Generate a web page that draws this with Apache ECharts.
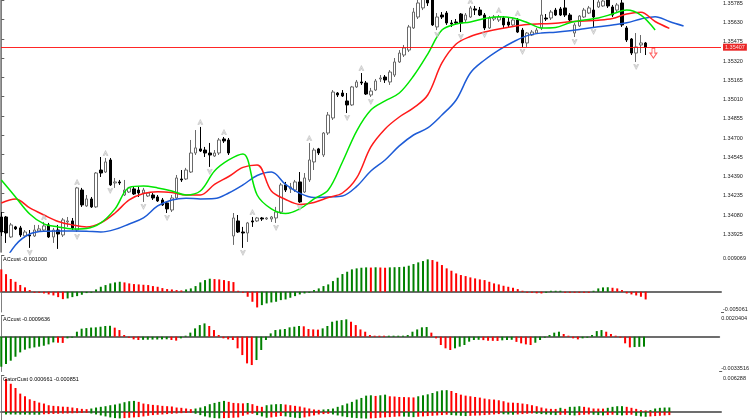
<!DOCTYPE html>
<html>
<head>
<meta charset="utf-8">
<script src="https://cdn.jsdelivr.net/npm/echarts@6/dist/echarts.min.js"></script>
<style>
html, body { margin: 0; padding: 0; background: #fff; }
#chart { width: 752px; height: 420px; }
</style>
</head>
<body>
<div id="chart"></div>
<script>
// price ticks on the right scale
var priceTicks = [1.33925, 1.34080, 1.34235, 1.34390, 1.34545, 1.34700, 1.34855, 1.35010,
    1.35165, 1.35320, 1.35475, 1.35630, 1.35785];
var bidPrice = 1.35407;

// candles, one per bar index
var opens = [
    1.34040, 1.34040, 1.33879, 1.33960, 1.33952, 1.33887, 1.33895, 1.33887, 1.33927, 1.33935,
    1.33976, 1.33879, 1.33935, 1.33895, 1.34000, 1.34008, 1.33935, 1.34257, 1.34129, 1.34185,
    1.34121, 1.34418, 1.34402, 1.34499, 1.34314, 1.34322, 1.34217, 1.34241, 1.34266, 1.34257,
    1.34233, 1.34209, 1.34217, 1.34201, 1.34177, 1.34153, 1.34096, 1.34193, 1.34346, 1.34346,
    1.34402, 1.34555, 1.34588, 1.34579, 1.34555, 1.34531, 1.34555, 1.34668, 1.34660, 1.33887,
    1.34008, 1.33919, 1.33911, 1.34008, 1.34008, 1.34032, 1.34024, 1.34024, 1.34032, 1.34080,
    1.34298, 1.34266, 1.34257, 1.34322, 1.34241, 1.34338, 1.34483, 1.34588, 1.34539, 1.34716,
    1.34837, 1.35038, 1.35038, 1.34974, 1.34942, 1.35087, 1.35127, 1.35119, 1.35022, 1.35062,
    1.35151, 1.35167, 1.35127, 1.35183, 1.35288, 1.35344, 1.35384, 1.35562, 1.35650, 1.35723,
    1.35803, 1.35787, 1.35570, 1.35666, 1.35682, 1.35602, 1.35610, 1.35674, 1.35626, 1.35650,
    1.35715, 1.35706, 1.35666, 1.35562, 1.35634, 1.35626, 1.35642, 1.35610, 1.35586, 1.35626,
    1.35545, 1.35441, 1.35505, 1.35521, 1.35562, 1.35642, 1.35642, 1.35706, 1.35715, 1.35723,
    1.35666, 1.35521, 1.35578, 1.35650, 1.35682, 1.35706, 1.35731, 1.35739, 1.35787, 1.35731,
    1.35706, 1.35763, 1.35562, 1.35473, 1.35360, 1.35425, 1.35441
];
var closes = [
    1.33919, 1.33911, 1.33976, 1.33944, 1.33895, 1.33919, 1.33887, 1.33935, 1.33944, 1.33968,
    1.33879, 1.33935, 1.33903, 1.34016, 1.34008, 1.33952, 1.34274, 1.34137, 1.34185, 1.34121,
    1.34394, 1.34394, 1.34483, 1.34298, 1.34322, 1.34314, 1.34257, 1.34274, 1.34225, 1.34233,
    1.34257, 1.34233, 1.34193, 1.34169, 1.34137, 1.34105, 1.34193, 1.34354, 1.34338, 1.34418,
    1.34555, 1.34596, 1.34571, 1.34555, 1.34539, 1.34555, 1.34660, 1.34652, 1.34555, 1.34032,
    1.33919, 1.33911, 1.33992, 1.34000, 1.34032, 1.34024, 1.34032, 1.34040, 1.34080, 1.34298,
    1.34257, 1.34282, 1.34322, 1.34161, 1.34354, 1.34499, 1.34579, 1.34555, 1.34716, 1.34861,
    1.35046, 1.35022, 1.35014, 1.34942, 1.35087, 1.35127, 1.35119, 1.35030, 1.35054, 1.35135,
    1.35159, 1.35143, 1.35207, 1.35288, 1.35360, 1.35401, 1.35570, 1.35690, 1.35763, 1.35811,
    1.35763, 1.35586, 1.35650, 1.35650, 1.35602, 1.35594, 1.35602, 1.35602, 1.35666, 1.35723,
    1.35706, 1.35666, 1.35562, 1.35642, 1.35650, 1.35650, 1.35586, 1.35586, 1.35626, 1.35529,
    1.35441, 1.35521, 1.35529, 1.35545, 1.35666, 1.35634, 1.35690, 1.35666, 1.35666, 1.35666,
    1.35626, 1.35586, 1.35658, 1.35706, 1.35723, 1.35650, 1.35771, 1.35779, 1.35739, 1.35666,
    1.35747, 1.35586, 1.35465, 1.35360, 1.35409, 1.35441, 1.35407
];
var lows = [
    1.33887, 1.33831, 1.33871, 1.33935, 1.33879, 1.33871, 1.33791, 1.33879, 1.33919, 1.33919,
    1.33871, 1.33831, 1.33783, 1.33879, 1.33960, 1.33935, 1.33919, 1.34121, 1.34121, 1.34113,
    1.34113, 1.34362, 1.34394, 1.34290, 1.34274, 1.34298, 1.34209, 1.34233, 1.34217, 1.34201,
    1.34161, 1.34201, 1.34177, 1.34161, 1.34129, 1.34072, 1.34080, 1.34177, 1.34322, 1.34338,
    1.34394, 1.34539, 1.34563, 1.34523, 1.34443, 1.34523, 1.34539, 1.34636, 1.34539, 1.33815,
    1.33911, 1.33791, 1.33839, 1.33960, 1.34000, 1.34008, 1.34016, 1.34000, 1.33992, 1.34064,
    1.34241, 1.34233, 1.34241, 1.34153, 1.34233, 1.34322, 1.34418, 1.34539, 1.34523, 1.34700,
    1.34821, 1.35006, 1.35006, 1.34877, 1.34934, 1.35079, 1.35103, 1.35022, 1.35006, 1.35054,
    1.35127, 1.35119, 1.35103, 1.35167, 1.35280, 1.35328, 1.35368, 1.35554, 1.35634, 1.35706,
    1.35739, 1.35578, 1.35545, 1.35634, 1.35586, 1.35570, 1.35586, 1.35529, 1.35610, 1.35642,
    1.35666, 1.35658, 1.35545, 1.35554, 1.35618, 1.35610, 1.35562, 1.35570, 1.35578, 1.35521,
    1.35409, 1.35409, 1.35497, 1.35513, 1.35545, 1.35618, 1.35626, 1.35658, 1.35658, 1.35650,
    1.35618, 1.35489, 1.35570, 1.35642, 1.35674, 1.35570, 1.35723, 1.35731, 1.35723, 1.35650,
    1.35690, 1.35570, 1.35449, 1.35344, 1.35288, 1.35360, 1.35344
];
var highs = [
    1.34080, 1.34048, 1.33992, 1.33968, 1.33968, 1.33935, 1.33935, 1.33976, 1.33976, 1.34000,
    1.33992, 1.33952, 1.33976, 1.34032, 1.34040, 1.34032, 1.34282, 1.34274, 1.34217, 1.34201,
    1.34402, 1.34523, 1.34515, 1.34515, 1.34354, 1.34338, 1.34338, 1.34282, 1.34282, 1.34282,
    1.34274, 1.34241, 1.34233, 1.34217, 1.34193, 1.34161, 1.34217, 1.34378, 1.34418, 1.34435,
    1.34660, 1.34740, 1.34765, 1.34604, 1.34636, 1.34579, 1.34676, 1.34684, 1.34676, 1.34072,
    1.34056, 1.33960, 1.34000, 1.34040, 1.34040, 1.34040, 1.34040, 1.34048, 1.34121, 1.34314,
    1.34322, 1.34314, 1.34338, 1.34402, 1.34394, 1.34636, 1.34596, 1.34596, 1.34724, 1.34885,
    1.35062, 1.35046, 1.35062, 1.35038, 1.35095, 1.35143, 1.35199, 1.35135, 1.35079, 1.35151,
    1.35183, 1.35183, 1.35223, 1.35320, 1.35384, 1.35425, 1.35586, 1.35723, 1.35787, 1.35835,
    1.35835, 1.35803, 1.35682, 1.35690, 1.35698, 1.35626, 1.35634, 1.35682, 1.35682, 1.35739,
    1.35739, 1.35731, 1.35682, 1.35658, 1.35666, 1.35666, 1.35658, 1.35642, 1.35642, 1.35642,
    1.35562, 1.35529, 1.35545, 1.35562, 1.35787, 1.35674, 1.35706, 1.35723, 1.35731, 1.35787,
    1.35682, 1.35602, 1.35666, 1.35723, 1.35739, 1.35787, 1.35787, 1.35795, 1.35803, 1.35747,
    1.35763, 1.35787, 1.35578, 1.35481, 1.35521, 1.35505, 1.35449
];

// alligator lines, sampled every 3 bars from bar 0 (they run ahead of price)
var lineStep = 3;
var lipsLine = [
    1.34338, 1.34201, 1.34064, 1.33984, 1.33960, 1.33944, 1.33948, 1.33992, 1.34105, 1.34278,
    1.34290, 1.34274, 1.34249, 1.34217, 1.34249, 1.34410, 1.34499, 1.34547, 1.34217, 1.34105,
    1.34068, 1.34105, 1.34185, 1.34257, 1.34483, 1.34732, 1.34901, 1.34974, 1.35038, 1.35175,
    1.35352, 1.35545, 1.35594, 1.35610, 1.35638, 1.35652, 1.35642, 1.35606, 1.35562, 1.35566,
    1.35604, 1.35626, 1.35642, 1.35674, 1.35707, 1.35666, 1.35546
];
var teethLine = [
    1.34153, 1.34185, 1.34113, 1.34056, 1.34004, 1.33976, 1.33960, 1.33992, 1.34072, 1.34177,
    1.34229, 1.34244, 1.34237, 1.34217, 1.34217, 1.34302, 1.34366, 1.34439, 1.34459, 1.34249,
    1.34181, 1.34141, 1.34157, 1.34197, 1.34233, 1.34354, 1.34604, 1.34749, 1.34845, 1.34918,
    1.35022, 1.35280, 1.35433, 1.35493, 1.35529, 1.35554, 1.35574, 1.35589, 1.35595, 1.35600,
    1.35612, 1.35618, 1.35624, 1.35638, 1.35674, 1.35688, 1.35614, 1.35559
];
var jawLine = [
    1.33630, 1.33815, 1.33903, 1.33925, 1.33927, 1.33927, 1.33925, 1.33919, 1.33940, 1.33984,
    1.34032, 1.34129, 1.34177, 1.34191, 1.34185, 1.34188, 1.34233, 1.34298, 1.34374, 1.34402,
    1.34302, 1.34231, 1.34197, 1.34201, 1.34209, 1.34286, 1.34410, 1.34499, 1.34612, 1.34700,
    1.34757, 1.34861, 1.34982, 1.35199, 1.35304, 1.35384, 1.35449, 1.35500, 1.35521, 1.35528,
    1.35540, 1.35556, 1.35572, 1.35586, 1.35603, 1.35634, 1.35653, 1.35614, 1.35578
];

// fractal bars and the sell signal
var fractalUp = [9, 16, 22, 42, 47, 53, 65, 76, 99, 105, 109, 114, 119];
var fractalDown = [6, 16, 23, 30, 35, 44, 51, 58, 63, 73, 78, 92, 97, 102, 110, 121, 125, 134];
var signalBar = 137;
var signalPrice = 1.35360;

// indicator windows
var ac1Values = [
    0.0056, 0.0044, 0.0032, 0.0025, 0.0017, 0.0011, 0.00042, -0.00017, -0.00025, -0.00042,
    -0.00067, -0.00092, -0.00134, -0.00184, -0.00167, -0.00134, -0.00109, -0.00075, -0.00033, -0.00017,
    0.00058, 0.00125, 0.00167, 0.00209, 0.00234, 0.0025, 0.00234, 0.00209, 0.00192, 0.00184,
    0.00175, 0.00167, 0.00142, 0.00125, 0.00092, 0.00067, 0.00058, 0.00042, 0.00033, 0.00058,
    0.00084, 0.00142, 0.00234, 0.00292, 0.00326, 0.00317, 0.00309, 0.00292, 0.00267, 0.00242,
    0.0001, -0.00017, -0.00125, -0.0025, -0.00392, -0.00334, -0.00292, -0.00267, -0.0025, -0.00209,
    -0.00192, -0.0015, -0.00109, -0.00067, -0.00042, -0.00017, 0.00042, 0.00084, 0.00142, 0.00184,
    0.00267, 0.00351, 0.00443, 0.00501, 0.0056, 0.00585, 0.00601, 0.0061, 0.00605, 0.00612,
    0.00607, 0.00601, 0.0061, 0.00614, 0.00618, 0.00626, 0.00651, 0.00693, 0.00735, 0.00768,
    0.0081, 0.00793, 0.00752, 0.00668, 0.00585, 0.00526, 0.00459, 0.00418, 0.00392, 0.00359,
    0.00334, 0.00309, 0.00292, 0.0025, 0.00209, 0.00184, 0.0015, 0.00125, 0.001, 0.00067,
    0.00017, -0.00017, -0.00025, -0.00038, -0.00042, -0.00025, 0.00008, 0.00021, 0.00025, 0,
    -0.00003, -0.00005, -0.00007, -0.00008, -0.0001, 0.00025, 0.00084, 0.00109, 0.00113, 0.001,
    0.00084, 0.00042, -0.00042, -0.00067, -0.00092, -0.00125, -0.00192
];
var ac2Values = [
    -0.00289, -0.00263, -0.00231, -0.00193, -0.00151, -0.00125, -0.00112, -0.00103, -0.00096, -0.00087,
    -0.00074, -0.00055, -0.00058, -0.0006, -0.00016, -0.00006, 0.00048, 0.00077, 0.00083, 0.00088,
    0.0009, 0.00096, 0.00103, 0.00105, 0.00087, 0.00064, 0.00016, -0.0001, -0.00026, -0.00032,
    -0.0003, -0.00029, -0.00028, -0.00027, -0.00026, -0.00025, -0.00032, -0.00038, -0.00016, 0.00006,
    0.00039, 0.0008, 0.00112, 0.00128, 0.00103, 0.00064, 0.00016, -0.00016, -0.00026, -0.00032,
    -0.00112, -0.00177, -0.00257, -0.00273, -0.00225, -0.00128, -0.00032, 0.00032, 0.00064, 0.0007,
    0.00074, 0.0009, 0.00096, 0.00103, 0.001, 0.00074, 0.0007, 0.00068, 0.0008, 0.00103,
    0.00144, 0.00154, 0.0016, 0.00167, 0.00144, 0.00112, 0.0007, 0.00048, 0.00016, 0.00006,
    0.00003, 0.00001, 0.00002, 0.00003, 0.00004, 0.00006, 0.00016, 0.00048, 0.0007, 0.0009,
    0.00093, 0.00039, -0.00016, -0.0008, -0.00112, -0.00128, -0.00112, -0.00096, -0.0008, -0.00048,
    -0.00032, -0.0003, -0.00033, -0.00039, -0.0004, -0.00041, -0.00035, -0.00032, -0.0003, -0.0005,
    -0.00064, -0.00074, -0.0008, -0.00058, -0.00032, -0.00006, 0.00016, 0.00039, 0.00048, 0.00026,
    0.00006, -0.00016, -0.00026, -0.00016, -0.00006, 0.00016, 0.00054, 0.00064, 0.00048, 0.00026,
    0.00006, -0.00006, -0.00064, -0.00103, -0.001, -0.00098, -0.00096
];
var gatorUpper = [
    null, 0.00572, 0.00486, 0.00412, 0.00315, 0.00269, 0.00217, 0.00189, 0.0016, 0.00143,
    0.00114, 0.00103, 0.00097, 0.00089, 0.00086, 0.00074, 0.00063, 0.00051, 0.00046, 0.00057,
    0.00074, 0.00086, 0.00097, 0.00114, 0.00126, 0.00143, 0.00166, 0.00183, 0.00189, 0.00172,
    0.00143, 0.00132, 0.0012, 0.00114, 0.00103, 0.00097, 0.00092, 0.00074, 0.00069, 0.00057,
    0.00046, 0.00057, 0.00074, 0.00097, 0.00132, 0.00154, 0.00172, 0.00189, 0.00172, 0.00154,
    0.00149, 0.00146, 0.00152, 0.00132, 0.00103, 0.00086, 0.00114, 0.00126, 0.00132, 0.00134,
    0.00126, 0.00114, 0.00103, 0.00092, 0.00074, 0.00057, 0.0004, 0.00034, 0.0004, 0.00046,
    0.00057, 0.00086, 0.00114, 0.00143, 0.00172, 0.00212, 0.0024, 0.0028, 0.00286, 0.00275,
    0.00286, 0.00297, 0.00269, 0.00265, 0.00257, 0.00255, 0.00252, 0.00249, 0.00269, 0.00286,
    0.00303, 0.00326, 0.00355, 0.00372, 0.00375, 0.0036, 0.00326, 0.00297, 0.0028, 0.00269,
    0.00257, 0.00246, 0.00229, 0.00217, 0.00212, 0.002, 0.00183, 0.0016, 0.00158, 0.00154,
    0.00143, 0.00132, 0.00114, 0.00097, 0.00074, 0.00057, 0.00051, 0.0005, 0.00069, 0.00051,
    0.00086, 0.00088, 0.00097, 0.00086, 0.00074, 0.00057, 0.00056, 0.00055, 0.00069, 0.00086,
    0.00097, 0.00098, 0.00086, 0.00069, 0.00051, 0.00029, 0.00023, 0.00029, 0.00057, 0.00069,
    0.00074, 0.00075
];
var gatorLower = [
    null, -0.00046, -0.00046, -0.00047, -0.00048, -0.00048, -0.00049, -0.0005, -0.0005, -0.00043,
    -0.0004, -0.00037, -0.00034, -0.00031, -0.00029, -0.00026, -0.00023, -0.0002, -0.00017, -0.00029,
    -0.00046, -0.00063, -0.0008, -0.00097, -0.00109, -0.00114, -0.00109, -0.00103, -0.00097, -0.00092,
    -0.0008, -0.00069, -0.00057, -0.00051, -0.00046, -0.0004, -0.00034, -0.00029, -0.00023, -0.0002,
    -0.00017, -0.00034, -0.00057, -0.0008, -0.00097, -0.00109, -0.00114, -0.00109, -0.00106, -0.00103,
    -0.00097, -0.00069, -0.00046, -0.00034, -0.00057, -0.0008, -0.00103, -0.00097, -0.00086, -0.00074,
    -0.0008, -0.00092, -0.00103, -0.00109, -0.00097, -0.0008, -0.00063, -0.00046, -0.0004, -0.00034,
    -0.00046, -0.00063, -0.0008, -0.00092, -0.00103, -0.00109, -0.00114, -0.00117, -0.00114, -0.00109,
    -0.00103, -0.00097, -0.00092, -0.00086, -0.0008, -0.00083, -0.00086, -0.00092, -0.00086, -0.0008,
    -0.00074, -0.00069, -0.00063, -0.00057, -0.00051, -0.00057, -0.00063, -0.00069, -0.00074, -0.0007,
    -0.00066, -0.00063, -0.00057, -0.00051, -0.00046, -0.0004, -0.00043, -0.00046, -0.00051, -0.00046,
    -0.0004, -0.00034, -0.00029, -0.00034, -0.0004, -0.00046, -0.00051, -0.00057, -0.00054, -0.00051,
    -0.00057, -0.00063, -0.00057, -0.00051, -0.00046, -0.00051, -0.00057, -0.00063, -0.00057, -0.00051,
    -0.00057, -0.00063, -0.00057, -0.00051, -0.00069, -0.0008, -0.00086, -0.0008, -0.00074, -0.00069,
    -0.00063, -0.00057
];

var ac1Range = [-0.005061, 0.009069];
var ac2Range = [-0.0033516, 0.0020404];
var gatorRange = [-0.00142, 0.006288];
var panelTitles = ['ACcust -0.001000', 'ACcust -0.0009636', 'GatorCust 0.000661 -0.000851'];

var GREEN = '#008000', RED = '#ff0000', BID_RED = '#ff0000';
var FONT = 'Liberation Sans';
var X_MIN = -0.063, X_MAX = 151.9;
var PRICE_MIN = 1.33758, PRICE_MAX = 1.35787;

var UP_ARROW = 'path://M5,0L10,9L7,9L5,5L3,9L0,9Z';
var DOWN_ARROW = 'path://M0,0L3,0L5,4L7,0L10,0L5,9Z';
var SIGNAL_ARROW = 'path://M3,0L7,0L7,6L10,6L5,12L0,6L3,6Z';

// color of each bar: green when the value rose
function risingColors(values, absolute, firstColor) {
    return values.map(function(v, i) {
        if (v === null) return null;
        var prev = values[i - 1];
        if (prev === null || prev === undefined) return firstColor;
        var a = absolute ? Math.abs(v) : v;
        var b = absolute ? Math.abs(prev) : prev;
        return a >= b ? GREEN : RED;
    });
}
function acColors(values) {
    return values.map(function(v, i) {
        var j = i === 0 ? 1 : i;
        return values[j] >= values[j - 1] ? GREEN : RED;
    });
}

var grids = [
    {left: 1, width: 720, top: 0, height: 252},
    {left: 1, width: 720, top: 255.5, height: 56.5},
    {left: 1, width: 720, top: 315.5, height: 56},
    {left: 1, width: 720, top: 375.5, height: 44.5}
];

var xAxes = grids.map(function(g, k) {
    return {
        type: 'value', gridIndex: k, min: X_MIN, max: X_MAX,
        position: 'top', offset: 1.5,
        axisLine: {show: k > 0, lineStyle: {color: '#6d6d6d', width: 2}},
        axisTick: {show: false}, axisLabel: {show: false}, splitLine: {show: false}
    };
});

function sideAxis(gi, range, values, digits, vAlign, showLine) {
    return {
        type: 'value', gridIndex: gi, position: 'right', min: range[0], max: range[1],
        axisLine: {show: showLine, lineStyle: {color: '#808080', width: 1}},
        axisTick: {show: true, length: 3, customValues: values, lineStyle: {color: '#606060'}},
        axisLabel: {
            show: true, customValues: values, margin: 2,
            formatter: function(v) { return v.toFixed(digits); },
            fontSize: 5.5, fontFamily: FONT, color: '#1a1a1a', verticalAlign: vAlign
        },
        splitLine: {show: false}
    };
}

var yAxes = [
    sideAxis(0, [PRICE_MIN, PRICE_MAX], priceTicks, 5, 'top', true),
    // thin frame on the left edge of the price window
    {
        type: 'value', gridIndex: 0, position: 'left', min: PRICE_MIN, max: PRICE_MAX,
        axisLine: {show: true, lineStyle: {color: '#7d7d7d', width: 1.5}},
        axisTick: {show: false, customValues: []}, axisLabel: {show: false, customValues: []},
        splitLine: {show: false}
    },
    sideAxis(1, ac1Range, [ac1Range[1]], 6, 'top', true),
    sideAxis(1, ac1Range, [ac1Range[0]], 6, 'bottom', false),
    sideAxis(2, ac2Range, [ac2Range[1]], 7, 'top', true),
    sideAxis(2, ac2Range, [ac2Range[0]], 7, 'bottom', false),
    sideAxis(3, gatorRange, [gatorRange[1]], 6, 'top', true)
];

var candleData = opens.map(function(o, i) {
    return [i, o, closes[i], lows[i], highs[i]];
});

function maSeries(values, color) {
    return {
        type: 'line', xAxisIndex: 0, yAxisIndex: 0, silent: true, z: 3,
        data: values.map(function(v, k) { return [k * lineStep, v]; }),
        showSymbol: false, smooth: 0.35,
        lineStyle: {color: color, width: 1.5}
    };
}

function histSeries(gi, yi, values, colors, stack) {
    var data = [];
    values.forEach(function(v, i) {
        if (v !== null) data.push({value: [i, v], itemStyle: {color: colors[i]}});
    });
    return {
        type: 'bar', xAxisIndex: gi, yAxisIndex: yi, silent: true,
        data: data, barWidth: 2, stack: stack, barMinHeight: 1
    };
}

// bid line lives on its own empty line series; precision keeps all 5 decimals
var bidSeries = {
    type: 'line', xAxisIndex: 0, yAxisIndex: 0, silent: true, z: 5,
    color: BID_RED,
    data: [],
    markLine: {
        silent: true, symbol: ['none', 'none'], animation: false, precision: 5,
        itemStyle: {color: BID_RED},
        lineStyle: {color: BID_RED, width: 1.2, type: 'solid', opacity: 0.85},
        label: {
            show: true, position: 'end', distance: 2, formatter: bidPrice.toFixed(5),
            color: '#ffffff', backgroundColor: '#e60000', padding: [1, 2, 0, 2],
            fontSize: 5.5, fontFamily: FONT
        },
        data: [{yAxis: bidPrice}]
    }
};

var option = {
    animation: false,
    backgroundColor: '#ffffff',
    title: panelTitles.map(function(t, k) {
        return {
            text: t, left: 3, top: grids[k + 1].top + 0.5, padding: 0,
            textStyle: {fontSize: 5.5, fontWeight: 'normal', color: '#000', fontFamily: FONT}
        };
    }),
    grid: grids,
    xAxis: xAxes,
    yAxis: yAxes,
    series: [
        bidSeries,
        {
            type: 'candlestick', xAxisIndex: 0, yAxisIndex: 0,
            dimensions: ['bar', 'open', 'close', 'lowest', 'highest'],
            encode: {x: 'bar', y: ['open', 'close', 'lowest', 'highest']},
            data: candleData, barWidth: 3,
            itemStyle: {
                color: '#ffffff', color0: '#000000',
                borderColor: '#6a6a6a', borderColor0: '#000000', borderWidth: 1
            }
        },
        maSeries(jawLine, '#1d5bd6'),
        maSeries(teethLine, '#ff1a1a'),
        maSeries(lipsLine, '#00e600'),
        {
            type: 'scatter', xAxisIndex: 0, yAxisIndex: 0, silent: true, z: 4,
            data: fractalUp.map(function(i) { return [i, highs[i]]; }),
            symbol: UP_ARROW, symbolSize: [5, 5], symbolOffset: [0, -5],
            itemStyle: {color: '#dcdcdc', borderColor: '#a6a6a6', borderWidth: 0.5}
        },
        {
            type: 'scatter', xAxisIndex: 0, yAxisIndex: 0, silent: true, z: 4,
            data: fractalDown.map(function(i) { return [i, lows[i]]; }),
            symbol: DOWN_ARROW, symbolSize: [5, 5], symbolOffset: [0, 5],
            itemStyle: {color: '#dcdcdc', borderColor: '#a6a6a6', borderWidth: 0.5}
        },
        {
            type: 'scatter', xAxisIndex: 0, yAxisIndex: 0, silent: true, z: 4,
            data: [[signalBar, signalPrice]],
            symbol: SIGNAL_ARROW, symbolSize: [7, 10], symbolOffset: [3, 0],
            itemStyle: {color: 'rgba(255,255,255,0)', borderColor: '#ff3b3b', borderWidth: 1}
        },
        histSeries(1, 2, ac1Values, acColors(ac1Values)),
        histSeries(2, 4, ac2Values, acColors(ac2Values)),
        histSeries(3, 6, gatorUpper, risingColors(gatorUpper, false, RED), 'gator'),
        histSeries(3, 6, gatorLower, risingColors(gatorLower, true, GREEN), 'gator')
    ]
};

var chart = echarts.init(document.getElementById('chart'));
chart.setOption(option);
</script>
</body>
</html>
